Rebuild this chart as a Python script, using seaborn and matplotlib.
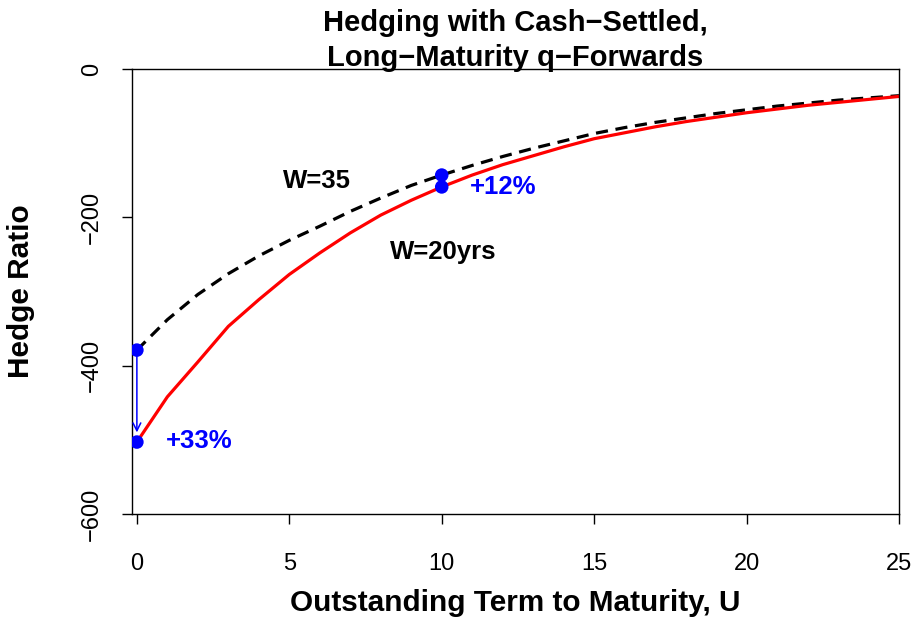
import numpy as np
import pandas as pd
import matplotlib
matplotlib.use("Agg")
import matplotlib.pyplot as plt
import seaborn as sns

# outstanding term to maturity (years)
term = list(range(0, 26))
# hedge ratio, W = 20yrs (red, solid)
hr_w20 = [-503, -442, -395, -347, -311, -277, -248, -221, -197, -177, -159,
          -143, -129, -117, -105, -94, -86, -78, -71, -65, -59,
          -54, -49, -45, -41, -37]
# hedge ratio, W = 35 (black, dashed)
hr_w35 = [-379, -338, -304, -276, -252, -231, -212, -192, -174, -157, -143,
          -130, -118, -107, -97, -87, -79, -72, -66, -60, -55,
          -50, -46, -42, -39, -36]

# highlighted points and their labels
pt_x = [0, 0, 10, 10]
pt_y = [-379, -503, -143, -159]
pct_labels = ["+33%", "+12%"]

df = pd.DataFrame({"U": term, "W20": hr_w20, "W35": hr_w35})
pts = pd.DataFrame({"U": pt_x, "HR": pt_y})

sns.set_style("ticks", {"axes.labelcolor": "black", "text.color": "black",
                        "xtick.color": "black", "ytick.color": "black",
                        "axes.edgecolor": "black"})
plt.rcParams['font.family'] = ['Liberation Sans', 'DejaVu Sans']

fig = plt.figure(figsize=(9.15, 6.25), dpi=100)
ax = fig.add_axes([132/915, 1-514/625, (899-132)/915, (514-69)/625])

sns.lineplot(data=df, x="U", y="W35", ax=ax, color="black", lw=2.3,
             dashes=False, linestyle=(0, (3.8, 2.4)))
sns.lineplot(data=df, x="U", y="W20", ax=ax, color="red", lw=2.3)
ax.annotate("", xy=(0, -490), xytext=(0, -379),
            arrowprops=dict(arrowstyle="->", color="blue", lw=1.1,
                            mutation_scale=14, shrinkA=0, shrinkB=0))
sns.scatterplot(data=pts, x="U", y="HR", ax=ax, color="blue", s=95,
                edgecolor="none", zorder=5)

ax.text(5.9, -151, "W=35", fontsize=18.5, fontweight="bold", ha="center", va="center")
ax.text(10.05, -247, "W=20yrs", fontsize=18.5, fontweight="bold", ha="center", va="center")
ax.text(2.05, -502, pct_labels[0], fontsize=18.5, fontweight="bold", color="blue",
        ha="center", va="center")
ax.text(12.0, -159, pct_labels[1], fontsize=18.5, fontweight="bold", color="blue",
        ha="center", va="center")

ax.set_xlim(-0.16, 25)
ax.set_ylim(-600, 0)
ax.set_xticks([0, 5, 10, 15, 20, 25])
ax.set_yticks([0, -200, -400, -600])
ax.tick_params(direction="out", length=7, width=1, colors="black", labelsize=17)
ax.tick_params(axis="x", pad=21)
ax.tick_params(axis="y", pad=14)
for lab in ax.get_yticklabels():
    lab.set_rotation(90)
    lab.set_va("center")
for s in ax.spines.values():
    s.set_color("black")
    s.set_linewidth(1)

ax.set_xlabel("Outstanding Term to Maturity, U", fontsize=21.4, fontweight="bold")
ax.set_ylabel("Hedge Ratio", fontsize=21.4, fontweight="bold")
ax.xaxis.set_label_coords(0.5, -0.1685)
ax.yaxis.set_label_coords(-0.1265, 0.5)
fig.text(515/915, 1-31/625, "Hedging with Cash\u2212Settled,", ha="center",
         va="baseline", fontsize=21, fontweight="bold")
fig.text(515/915, 1-66/625, "Long\u2212Maturity q\u2212Forwards", ha="center",
         va="baseline", fontsize=21, fontweight="bold")

fig.savefig("out.png", dpi=100)
